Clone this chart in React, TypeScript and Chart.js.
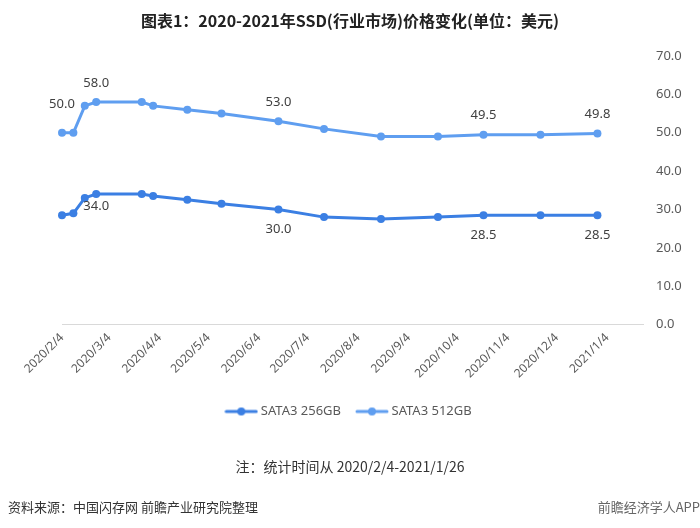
import React, { useEffect, useRef } from "react";
import { Chart, registerables } from "chart.js";

Chart.register(...registerables);

// Days since 2020/2/4 for each observation (weekly data)
const dayOffsets = [0, 7, 14, 21, 49, 56, 77, 98, 133, 161, 196, 231, 259, 294, 329];
const sata256 = [28.5, 29, 33, 34, 34, 33.5, 32.5, 31.5, 30, 28, 27.5, 28, 28.5, 28.5, 28.5];
const sata512 = [50, 50, 57, 58, 58, 57, 56, 55, 53, 51, 49, 49, 49.5, 49.5, 49.8];
const seriesNames = ["SATA3 256GB", "SATA3 512GB"];
// Axis tick positions (days since 2020/2/4) and labels
const tickDays = [0, 29, 60, 90, 121, 151, 182, 213, 243, 274, 304, 335];
const tickLabels = [
  "2020/2/4", "2020/3/4", "2020/4/4", "2020/5/4", "2020/6/4", "2020/7/4",
  "2020/8/4", "2020/9/4", "2020/10/4", "2020/11/4", "2020/12/4", "2021/1/4",
];
const axisEndDay = 357; // 2021/1/26
// Indices of points carrying value labels
const labeled256 = [3, 8, 12, 14];
const labeled512 = [0, 3, 8, 12, 14];

const COLOR_256 = "#3b7fe3";
const COLOR_512 = "#5f9ef0";
const FONT = '"Noto Sans", "Noto Sans CJK SC", sans-serif';

function legendIcon(color: string) {
  const c = document.createElement("canvas");
  c.width = 34;
  c.height = 10;
  const ctx = c.getContext("2d")!;
  ctx.strokeStyle = color;
  ctx.lineWidth = 3;
  ctx.lineCap = "round";
  ctx.beginPath();
  ctx.moveTo(2, 5);
  ctx.lineTo(32, 5);
  ctx.stroke();
  ctx.fillStyle = color;
  ctx.beginPath();
  ctx.arc(17, 5, 4, 0, Math.PI * 2);
  ctx.fill();
  return c;
}

const valueLabelPlugin = {
  id: "valueLabels",
  afterDatasetsDraw(chart: any) {
    const ctx = chart.ctx;
    ctx.save();
    ctx.font = `13px ${FONT}`;
    ctx.fillStyle = "#404040";
    ctx.textAlign = "center";
    ctx.textBaseline = "middle";
    const m256 = chart.getDatasetMeta(0);
    labeled256.forEach((i) => {
      const p = m256.data[i];
      const dy = i === 3 ? 12 : 20;
      ctx.fillText(sata256[i].toFixed(1), p.x, p.y + dy);
    });
    const m512 = chart.getDatasetMeta(1);
    labeled512.forEach((i) => {
      const p = m512.data[i];
      const dy = i === 0 ? 28 : 19;
      ctx.fillText(sata512[i].toFixed(1), p.x, p.y - dy);
    });
    ctx.restore();
  },
};

export default function App() {
  const ref = useRef<HTMLCanvasElement>(null);

  useEffect(() => {
    document.body.style.margin = "0";
    const icons = [legendIcon(COLOR_256), legendIcon(COLOR_512)];
    const chart = new Chart(ref.current!, {
      type: "line",
      data: {
        datasets: [
          {
            label: seriesNames[0],
            data: dayOffsets.map((d, i) => ({ x: d, y: sata256[i] })),
            borderColor: COLOR_256,
            backgroundColor: COLOR_256,
            borderWidth: 3,
            pointRadius: 4,
            pointBackgroundColor: COLOR_256,
            pointBorderWidth: 0,
            tension: 0,
            clip: false,
          },
          {
            label: seriesNames[1],
            data: dayOffsets.map((d, i) => ({ x: d, y: sata512[i] })),
            borderColor: COLOR_512,
            backgroundColor: COLOR_512,
            borderWidth: 3,
            pointRadius: 4,
            pointBackgroundColor: COLOR_512,
            pointBorderWidth: 0,
            tension: 0,
            clip: false,
          },
        ],
      },
      options: {
        animation: false,
        responsive: false,
        maintainAspectRatio: false,
        layout: { padding: { top: 56, left: 10, right: 10, bottom: 100 } },
        scales: {
          x: {
            type: "linear",
            min: 0,
            max: axisEndDay,
            grid: { display: false, drawTicks: false },
            border: { display: true, color: "#d9d9d9", width: 1 },
            afterBuildTicks: (scale: any) => {
              scale.ticks = tickDays.map((v) => ({ value: v }));
            },
            ticks: {
              autoSkip: false,
              maxRotation: 45,
              minRotation: 45,
              padding: 6,
              color: "#595959",
              font: { family: FONT, size: 12 },
              callback: (v: any) => {
                const idx = tickDays.indexOf(Number(v));
                return idx >= 0 ? tickLabels[idx] : "";
              },
            },
          },
          y: {
            position: "right",
            min: 0,
            max: 70,
            grid: { display: false, drawTicks: false },
            border: { display: false },
            afterFit: (scale: any) => {
              scale.width = 47;
            },
            ticks: {
              stepSize: 10,
              padding: 13,
              color: "#595959",
              font: { family: FONT, size: 13 },
              callback: (v: any) => Number(v).toFixed(1),
            },
          },
          spacer: {
            type: "linear",
            position: "left",
            min: 0,
            max: 70,
            display: true,
            grid: { display: false, drawTicks: false },
            border: { display: false },
            ticks: { display: false },
            afterFit: (scale: any) => {
              scale.width = 52;
            },
          },
        },
        plugins: {
          title: { display: false },
          tooltip: { enabled: false },
          legend: {
            display: true,
            position: "bottom",
            labels: {
              usePointStyle: true,
              pointStyleWidth: 26,
              color: "#595959",
              padding: 18,
              font: { family: FONT, size: 13 },
              generateLabels: (c: any) =>
                c.data.datasets.map((ds: any, i: number) => ({
                  text: ds.label,
                  pointStyle: icons[i],
                  fillStyle: ds.borderColor,
                  strokeStyle: ds.borderColor,
                  lineWidth: 0,
                  fontColor: "#595959",
                  datasetIndex: i,
                  hidden: false,
                })),
            },
          },
        },
      },
      plugins: [valueLabelPlugin],
    });
    return () => chart.destroy();
  }, []);

  return (
    <div style={{ position: "relative", width: 700, height: 528, background: "#fff", fontFamily: FONT }}>
      <canvas ref={ref} width={700} height={528} style={{ display: "block" }} />
      <div
        style={{
          position: "absolute", top: 8, left: 0, width: 700, textAlign: "center",
          fontFamily: '"Noto Sans CJK SC", sans-serif', fontWeight: "bold", fontSize: 16, color: "#222", lineHeight: "24px",
        }}
      >
        图表1：2020-2021年SSD(行业市场)价格变化(单位：美元)
      </div>
      <div
        style={{
          position: "absolute", top: 455, left: 0, width: 700, textAlign: "center",
          fontFamily: '"Noto Sans CJK SC", sans-serif', fontSize: 14, color: "#333", lineHeight: "22px",
        }}
      >
        注：统计时间从 2020/2/4-2021/1/26
      </div>
      <div
        style={{
          position: "absolute", top: 497, left: 8,
          fontFamily: '"Noto Sans CJK SC", sans-serif', fontSize: 13, color: "#333", lineHeight: "20px",
        }}
      >
        资料来源：中国闪存网 前瞻产业研究院整理
      </div>
      <div
        style={{
          position: "absolute", top: 497, right: 0,
          fontFamily: '"Noto Sans CJK SC", sans-serif', fontSize: 13, color: "#666", lineHeight: "20px",
        }}
      >
        前瞻经济学人APP
      </div>
    </div>
  );
}
